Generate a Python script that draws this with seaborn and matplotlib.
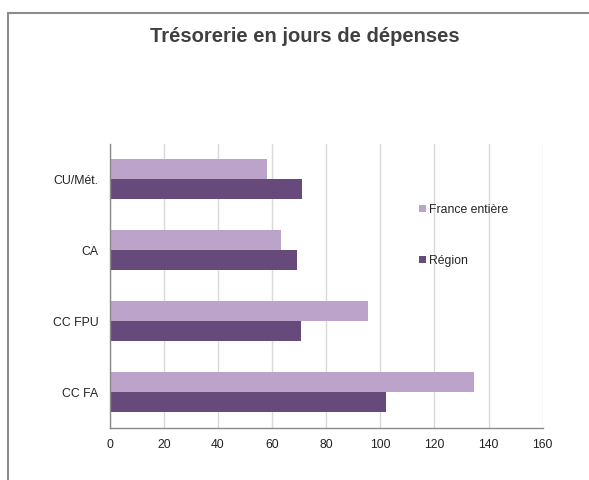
import pandas as pd
import seaborn as sns
import matplotlib.pyplot as plt
from matplotlib.lines import Line2D

categories = ["CU/Mét.", "CA", "CC FPU", "CC FA"]
series = ["France entière", "Région"]
france = [58.2, 63.3, 95.6, 134.5]
region = [71.1, 69.3, 70.8, 102.0]
x_ticks = [0, 20, 40, 60, 80, 100, 120, 140, 160]
title = "Trésorerie en jours de dépenses"

colors = ["#bba3ca", "#664a7c"]

df = pd.DataFrame({
    "cat": categories * 2,
    "serie": [series[0]] * len(categories) + [series[1]] * len(categories),
    "val": france + region,
})

sns.set_style("white")
plt.rcParams["font.family"] = ["Liberation Sans", "DejaVu Sans"]

W, H = 589, 480
fig = plt.figure(figsize=(W / 100, H / 100), dpi=100)
ax = fig.add_axes([109.7 / W, 1 - 427.7 / H, (542.7 - 109.7) / W, (427.7 - 143.7) / H])

sns.barplot(data=df, x="val", y="cat", hue="serie", order=categories,
            hue_order=series, palette=colors, width=0.56, gap=0,
            orient="h", ax=ax, saturation=1, edgecolor="none")

ax.set_xlim(0, 160)
ax.set_ylim(3.5, -0.5)
ax.set_xticks(x_ticks)
ax.set_xticklabels([str(t) for t in x_ticks], fontsize=8.7, color="#222222")
ax.set_yticks(range(len(categories)))
ax.set_yticklabels(categories, fontsize=8.8, color="#222222")
ax.set_yticks([i - 0.5 for i in range(len(categories) + 1)], minor=True)
ax.tick_params(axis="y", which="major", length=0, pad=8)
ax.tick_params(axis="y", which="minor", length=4, color="#999999", width=1)
ax.tick_params(axis="x", length=4, color="#999999", width=1, pad=4)
ax.set_xlabel("")
ax.set_ylabel("")
ax.set_axisbelow(True)
ax.grid(axis="x", color="#d9d9d9", lw=1)
for s in ["top", "right"]:
    ax.spines[s].set_visible(False)
for s in ["left", "bottom"]:
    ax.spines[s].set_color("#8a8a8a")
    ax.spines[s].set_linewidth(1)

handles, labels = ax.get_legend_handles_labels()
ax.legend(handles, labels, loc="upper left", frameon=False,
          bbox_to_anchor=(419 / W, 1 - 204 / H), bbox_transform=fig.transFigure,
          fontsize=8.8, handlelength=0.55, handleheight=0.55, handletextpad=0.3,
          labelspacing=3.2, borderpad=0, borderaxespad=0)

fig.text(305 / W, 1 - 37 / H, title, ha="center", va="center",
         fontsize=14.5, fontweight="bold", color="#404040",
         family=["Liberation Sans", "DejaVu Sans"])

# cadre autour du graphique
frame_kw = dict(transform=fig.transFigure, color="#8c8c8c", lw=1.5)
fig.add_artist(Line2D([8 / W, 8 / W], [0, 1 - 13 / H], **frame_kw))
fig.add_artist(Line2D([8 / W, 1], [1 - 13 / H, 1 - 13 / H], **frame_kw))

fig.savefig("out.png", dpi=100)
